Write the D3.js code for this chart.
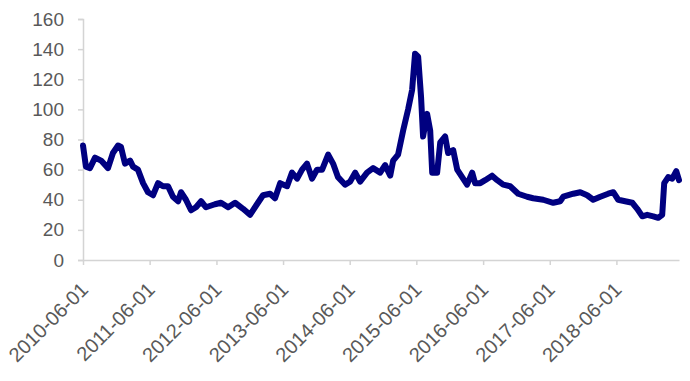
<!DOCTYPE html>
<html>
<head>
<meta charset="utf-8">
<script src="https://cdn.jsdelivr.net/npm/d3@7"></script>
<style>
  body { margin: 0; background: #fff; }
  svg { display: block; font-family: "Liberation Sans", Arial, sans-serif; }
</style>
</head>
<body>
<div id="chart"></div>
<script>
const dates = [
  "2010-06-01", "2010-06-17", "2010-07-09", "2010-08-06", "2010-09-08", "2010-10-16",
  "2010-11-12", "2010-12-10", "2010-12-26", "2011-01-17", "2011-02-14", "2011-03-02",
  "2011-03-29", "2011-04-26", "2011-05-23", "2011-06-20", "2011-07-17", "2011-08-13",
  "2011-09-10", "2011-10-07", "2011-11-04", "2011-11-20", "2011-12-17", "2012-01-14",
  "2012-02-10", "2012-03-09", "2012-04-05", "2012-05-24", "2012-06-26", "2012-08-04",
  "2012-09-11", "2012-10-25", "2012-12-02", "2013-01-09", "2013-02-11", "2013-03-22",
  "2013-04-18", "2013-05-16", "2013-06-23", "2013-07-20", "2013-08-17", "2013-09-13",
  "2013-10-10", "2013-11-07", "2013-12-04", "2014-01-01", "2014-02-03", "2014-03-02",
  "2014-03-29", "2014-05-07", "2014-06-03", "2014-07-01", "2014-07-28", "2014-09-04",
  "2014-10-07", "2014-11-15", "2014-12-12", "2015-01-09", "2015-01-25", "2015-02-21",
  "2015-03-21", "2015-04-17", "2015-05-09", "2015-05-25", "2015-06-11", "2015-06-27",
  "2015-07-08", "2015-07-30", "2015-08-16", "2015-08-27", "2015-09-23", "2015-10-10",
  "2015-11-06", "2015-11-22", "2015-12-20", "2016-01-11", "2016-02-07", "2016-03-05",
  "2016-04-02", "2016-04-18", "2016-05-16", "2016-06-12", "2016-07-20", "2016-08-17",
  "2016-09-19", "2016-10-27", "2016-12-10", "2017-01-28", "2017-03-02", "2017-04-26",
  "2017-06-20", "2017-07-28", "2017-08-14", "2017-10-08", "2017-11-15", "2017-12-23",
  "2018-01-25", "2018-03-05", "2018-04-17", "2018-05-15", "2018-06-11", "2018-07-19",
  "2018-08-27", "2018-09-23", "2018-10-21", "2018-11-17", "2018-12-20", "2019-01-16",
  "2019-02-07", "2019-02-18", "2019-03-12", "2019-04-03", "2019-04-25", "2019-05-10"
];

const values = [
  76, 62, 61, 68, 66, 61,
  71, 76, 75, 64, 66, 62,
  60, 51, 45, 43, 51, 49,
  49, 42, 39, 45, 40, 33,
  35, 39, 35, 37, 38, 35,
  38, 34, 30, 37, 43, 44,
  41, 51, 49, 58, 54, 60,
  64, 54, 60, 60, 70, 64,
  55, 50, 52, 58, 52, 58,
  61, 58, 63, 56, 66, 70,
  86, 100, 113, 137, 135, 108,
  82, 97, 86, 58, 58, 78,
  82, 71, 73, 60, 55, 50,
  58, 51, 51, 53, 56, 53,
  50, 49, 44, 42, 41, 40,
  38, 39, 42, 44, 45, 43,
  40, 42, 44, 45, 40, 39,
  38, 34, 29, 30, 29, 28,
  30, 51, 55, 54, 59, 53
];

const yTicks = [0, 20, 40, 60, 80, 100, 120, 140, 160];
const xTickLabels = [
  "2010-06-01", "2011-06-01", "2012-06-01", "2013-06-01", "2014-06-01",
  "2015-06-01", "2016-06-01", "2017-06-01", "2018-06-01"
];

const width = 690;
const height = 381;
const parse = d3.timeParse("%Y-%m-%d");

const data = dates.map((d, i) => ({ date: parse(d), value: values[i] }));

const svg = d3.select("#chart")
  .append("svg")
  .attr("width", width)
  .attr("height", height);

const x = d3.scaleTime()
  .domain([parse("2010-06-01"), parse("2019-05-10")])
  .range([83, 679]);

const y = d3.scaleLinear()
  .domain([0, 160])
  .range([260, 19]);

const axisColor = "#d4d4d4";
const textColor = "#595959";

// y axis
const yAxis = svg.append("g")
  .attr("transform", "translate(83,0)")
  .call(d3.axisLeft(y).tickValues(yTicks).tickSize(5).tickPadding(14));
yAxis.select(".domain").attr("stroke", axisColor).attr("stroke-width", 1.5);
yAxis.selectAll(".tick line").attr("stroke", axisColor).attr("stroke-width", 1.5);
yAxis.selectAll(".tick text")
  .attr("fill", textColor)
  .style("font-size", "19px");

// x axis
const xAxis = svg.append("g")
  .attr("transform", "translate(0,260)")
  .call(d3.axisBottom(x)
    .tickValues(xTickLabels.map(parse))
    .tickSize(5)
    .tickSizeOuter(0)
    .tickFormat(d3.timeFormat("%Y-%m-%d")));
xAxis.select(".domain").attr("stroke", axisColor).attr("stroke-width", 1.5);
xAxis.selectAll(".tick line").attr("stroke", axisColor).attr("stroke-width", 1.5);
xAxis.selectAll(".tick text")
  .attr("fill", textColor)
  .style("font-size", "20px")
  .attr("text-anchor", "end")
  .attr("x", 0)
  .attr("y", 0)
  .attr("dy", "0.35em")
  .attr("transform", "translate(1,26) rotate(-45)");

// line
const line = d3.line()
  .x(d => x(d.date))
  .y(d => y(d.value));

svg.append("path")
  .datum(data)
  .attr("fill", "none")
  .attr("stroke", "#000080")
  .attr("stroke-width", 6)
  .attr("stroke-linejoin", "round")
  .attr("stroke-linecap", "round")
  .attr("d", line);
</script>
</body>
</html>
